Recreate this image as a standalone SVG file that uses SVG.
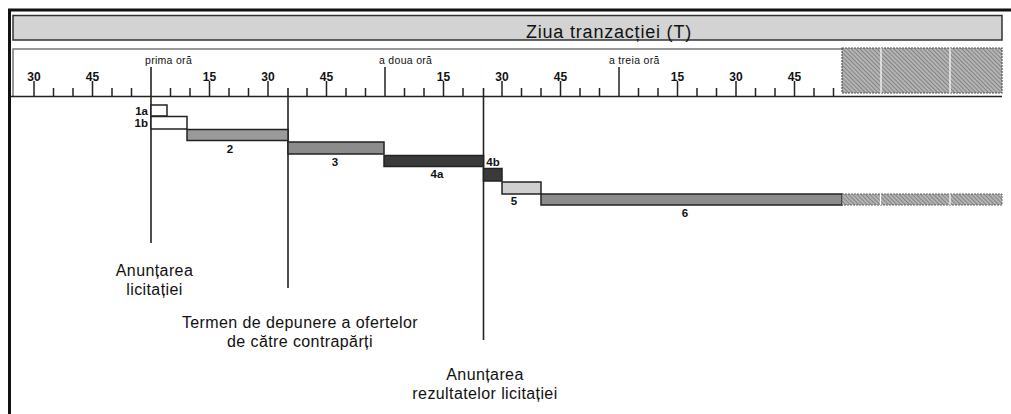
<svg xmlns="http://www.w3.org/2000/svg" width="1011" height="414" viewBox="0 0 1011 414">
<style>
.lbl{font-family:"Liberation Sans",Arial,sans-serif;fill:#111}
.big{font-size:16px;letter-spacing:0.4px;text-anchor:middle}
.hr{font-size:10.5px}
.num{font-size:12px;text-anchor:middle;font-weight:bold}
.bl{font-size:11.5px;font-weight:bold}
.bar{stroke:#222;stroke-width:1.5}
.tick{stroke:#222;stroke-width:1.5;fill:none}
.mark{stroke:#222;stroke-width:1.6}
</style>
<defs>
<pattern id="hatch" width="3" height="3" patternUnits="userSpaceOnUse" patternTransform="rotate(-45)">
<rect width="3" height="3" fill="#b4b4b4"/>
<line x1="0" y1="0" x2="0" y2="3" stroke="#6a6a6a" stroke-width="1.3"/>
</pattern>
</defs>
<rect width="1011" height="414" fill="#fff"/>
<g id="frame">
<line x1="8" y1="10" x2="1011" y2="10" stroke="#111" stroke-width="3"/>
<line x1="9.5" y1="9" x2="9.5" y2="414" stroke="#111" stroke-width="3"/>
</g>
<g id="title">
<rect x="13" y="15.5" width="989" height="24.5" fill="#d3d3d3" stroke="#333" stroke-width="1.5"/>
<text class="lbl" x="609" y="38" font-size="18" text-anchor="middle" letter-spacing="0.8">Ziua tranzacției (T)</text>
</g>
<g id="ruler">
<path d="M13 96 V49 H842" fill="none" stroke="#777" stroke-width="1.5"/>
<line x1="11" y1="96.5" x2="1002" y2="96.5" stroke="#222" stroke-width="1.5"/>
<rect x="842" y="48" width="160" height="45" fill="url(#hatch)" stroke="#555" stroke-width="1.2" stroke-dasharray="2,1"/>
<line x1="881" y1="48" x2="881" y2="93" stroke="#fff" stroke-width="1.2"/>
<line x1="950" y1="48" x2="950" y2="93" stroke="#fff" stroke-width="1.2"/>
<path class="tick" d="M53.5 88V96 M73 88V96 M112 88V96 M131.5 88V96 M170.5 88V96 M190 88V96 M229 88V96 M248.5 88V96 M307 88V96 M346 88V96 M365.5 88V96 M404.5 88V96 M424 88V96 M463 88V96 M521.5 88V96 M541 88V96 M580 88V96 M599.5 88V96 M638.5 88V96 M658 88V96 M697 88V96 M716.5 88V96 M755.5 88V96 M775 88V96 M814 88V96 M833.5 88V96"/>
<path class="tick" d="M34 81V96 M92.5 81V96 M209.5 81V96 M268 81V96 M326.5 81V96 M443.5 81V96 M502 81V96 M560.5 81V96 M677.5 81V96 M736 81V96 M794.5 81V96"/>
<path class="tick" d="M385 67V96 M619 67V96"/>
<text class="lbl num" x="34" y="81">30</text>
<text class="lbl num" x="92.5" y="81">45</text>
<text class="lbl num" x="209.5" y="81">15</text>
<text class="lbl num" x="268" y="81">30</text>
<text class="lbl num" x="326.5" y="81">45</text>
<text class="lbl num" x="443.5" y="81">15</text>
<text class="lbl num" x="502" y="81">30</text>
<text class="lbl num" x="560.5" y="81">45</text>
<text class="lbl num" x="677.5" y="81">15</text>
<text class="lbl num" x="736" y="81">30</text>
<text class="lbl num" x="794.5" y="81">45</text>
<text class="lbl hr" x="145" y="64" letter-spacing="0.3">prima oră</text>
<text class="lbl hr" x="379" y="64" letter-spacing="0.3">a doua oră</text>
<text class="lbl hr" x="609" y="64" letter-spacing="0.3">a treia oră</text>
</g>
<g id="connectors">
<line class="mark" x1="151" y1="67" x2="151" y2="243"/>
<line class="mark" x1="288" y1="88" x2="288" y2="288"/>
<line class="mark" x1="483.5" y1="88" x2="483.5" y2="340"/>
</g>
<g id="bar-1a"><rect class="bar" x="151" y="105" width="16" height="11" fill="#fff"/><text class="lbl bl" x="148" y="115" text-anchor="end">1a</text></g>
<g id="bar-1b"><rect class="bar" x="151" y="116.5" width="36" height="12.5" fill="#fff"/><text class="lbl bl" x="148" y="127" text-anchor="end">1b</text></g>
<g id="bar-2"><rect class="bar" x="187" y="129.5" width="101" height="11" fill="#9a9a9a"/><text class="lbl bl" x="230" y="153" text-anchor="middle">2</text></g>
<g id="bar-3"><rect class="bar" x="288" y="142" width="96" height="12" fill="#8c8c8c"/><text class="lbl bl" x="335" y="166" text-anchor="middle">3</text></g>
<g id="bar-4a"><rect class="bar" x="384" y="155.5" width="99.5" height="11" fill="#3a3a3a"/><text class="lbl bl" x="437" y="178" text-anchor="middle">4a</text></g>
<g id="bar-4b"><rect class="bar" x="483.5" y="168.5" width="18.5" height="12.5" fill="#3a3a3a"/><text class="lbl bl" x="493" y="166" text-anchor="middle">4b</text></g>
<g id="bar-5"><rect class="bar" x="502" y="182" width="39" height="12" fill="#cfcfcf"/><text class="lbl bl" x="514" y="205" text-anchor="middle">5</text></g>
<g id="bar-6">
<rect class="bar" x="541" y="194" width="301" height="11" fill="#8c8c8c"/>
<rect x="842" y="194" width="160" height="11" fill="url(#hatch)" stroke="#666" stroke-width="1" stroke-dasharray="2,1"/>
<line x1="880.5" y1="194" x2="880.5" y2="205" stroke="#fff" stroke-width="1.2"/>
<line x1="950" y1="194" x2="950" y2="205" stroke="#fff" stroke-width="1.2"/>
<text class="lbl bl" x="685" y="217" text-anchor="middle">6</text>
</g>
<g id="label-anuntarea-licitatiei">
<text class="lbl big" x="154.5" y="276">Anunțarea</text>
<text class="lbl big" x="154.5" y="295">licitației</text>
</g>
<g id="label-termen">
<text class="lbl big" x="300" y="328">Termen de depunere a ofertelor</text>
<text class="lbl big" x="300" y="347">de către contrapărți</text>
</g>
<g id="label-rezultate">
<text class="lbl big" x="485" y="380">Anunțarea</text>
<text class="lbl big" x="485" y="399">rezultatelor licitației</text>
</g>
</svg>
